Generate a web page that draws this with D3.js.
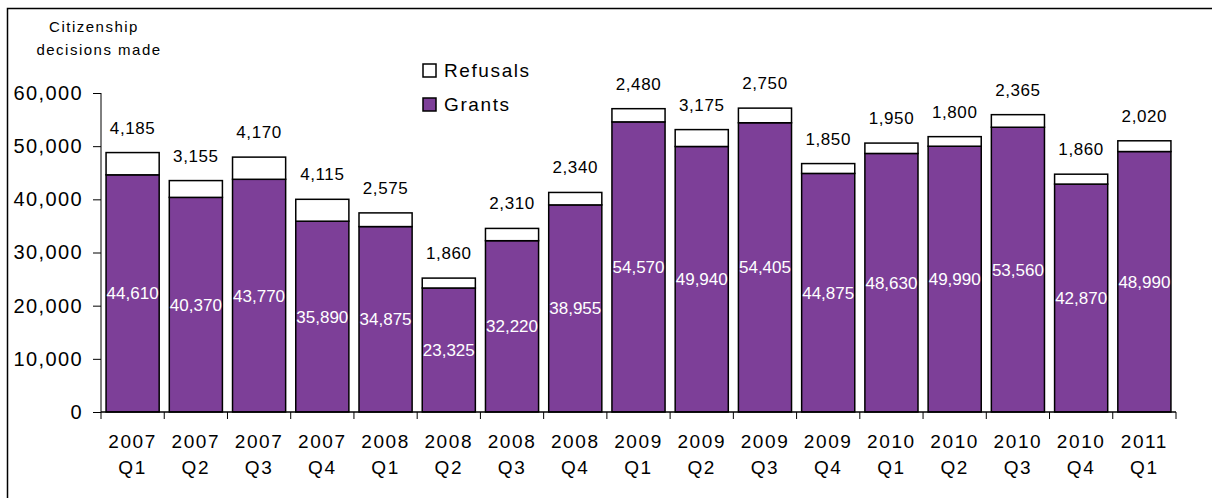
<!DOCTYPE html>
<html>
<head>
<meta charset="utf-8">
<script src="https://cdn.jsdelivr.net/npm/d3@7"></script>
<style>
  body { margin: 0; background: #fff; }
  text { font-family: "Liberation Sans", Arial, sans-serif; }
</style>
</head>
<body>
<svg id="chart" width="1212" height="498"></svg>
<script>
var years = ["2007","2007","2007","2007","2008","2008","2008","2008","2009","2009","2009","2009","2010","2010","2010","2010","2011"];
var quarters = ["Q1","Q2","Q3","Q4","Q1","Q2","Q3","Q4","Q1","Q2","Q3","Q4","Q1","Q2","Q3","Q4","Q1"];
var grants = [44610, 40370, 43770, 35890, 34875, 23325, 32220, 38955, 54570, 49940, 54405, 44875, 48630, 49990, 53560, 42870, 48990];
var refusals = [4185, 3155, 4170, 4115, 2575, 1860, 2310, 2340, 2480, 3175, 2750, 1850, 1950, 1800, 2365, 1860, 2020];
var yTicks = [0, 10000, 20000, 30000, 40000, 50000, 60000];

var purple = "#7d3f98";
var svg = d3.select("#chart");

// frame (only top and left show in the picture)
svg.append("path")
    .attr("d", "M7.5,498 V8.5 H1212")
    .attr("fill", "none")
    .attr("stroke", "#000")
    .attr("stroke-width", 1.5);

var x = d3.scaleBand()
    .domain(d3.range(grants.length))
    .range([101, 1176])
    .paddingInner(0.16)
    .paddingOuter(0.08);

var y = d3.scaleLinear()
    .domain([0, 60000])
    .range([412, 93]);

var fmt = d3.format(",");

// y axis
var yAxis = svg.append("g")
    .attr("transform", "translate(101,0)")
    .call(d3.axisLeft(y).tickValues(yTicks).tickFormat(fmt).tickSize(8).tickPadding(10));
yAxis.select(".domain").attr("stroke", "#000").attr("d", "M0," + y(60000) + "V" + y(0));
yAxis.selectAll("line").attr("stroke", "#000");
yAxis.selectAll("text")
    .attr("font-size", 20)
    .attr("letter-spacing", 1.4)
    .attr("fill", "#000")
    .attr("font-family", "Liberation Sans, Arial, sans-serif");

// bars
var step = x.step();
var groups = svg.append("g").selectAll(".bar")
    .data(grants.map((g, i) => ({i: i, g: g, r: refusals[i]})))
    .enter().append("g").classed("bar", true);

groups.append("rect")
    .attr("x", d => x(d.i))
    .attr("width", x.bandwidth())
    .attr("y", d => y(d.g))
    .attr("height", d => y(0) - y(d.g))
    .attr("fill", purple)
    .attr("stroke", "#000")
    .attr("stroke-width", 1.5);

groups.append("rect")
    .attr("x", d => x(d.i))
    .attr("width", x.bandwidth())
    .attr("y", d => y(d.g + d.r))
    .attr("height", d => y(d.g) - y(d.g + d.r))
    .attr("fill", "#fff")
    .attr("stroke", "#000")
    .attr("stroke-width", 1.5);

groups.append("text")
    .attr("x", d => x(d.i) + x.bandwidth() / 2)
    .attr("y", d => y(d.g / 2) + 6)
    .attr("text-anchor", "middle")
    .attr("font-size", 17)
    .attr("fill", "#fff")
    .text(d => fmt(d.g));

groups.append("text")
    .attr("x", d => x(d.i) + x.bandwidth() / 2)
    .attr("y", d => y(d.g + d.r) - 19)
    .attr("text-anchor", "middle")
    .attr("font-size", 17)
    .attr("letter-spacing", 0.6)
    .attr("fill", "#000")
    .text(d => fmt(d.r));

// x axis
var xa = svg.append("g");
xa.append("line")
    .attr("x1", 101).attr("x2", 1176)
    .attr("y1", y(0)).attr("y2", y(0))
    .attr("stroke", "#000").attr("stroke-width", 1.5);
xa.selectAll(".tick")
    .data(d3.range(grants.length + 1))
    .enter().append("line")
    .attr("x1", i => 101 + i * step).attr("x2", i => 101 + i * step)
    .attr("y1", y(0)).attr("y2", y(0) + 7)
    .attr("stroke", "#000");
var xl = xa.selectAll(".lab")
    .data(d3.range(grants.length))
    .enter().append("text")
    .attr("text-anchor", "middle")
    .attr("font-size", 19)
    .attr("letter-spacing", 1.6)
    .attr("fill", "#000");
xl.append("tspan")
    .attr("x", i => x(i) + x.bandwidth() / 2)
    .attr("y", 448)
    .text(i => years[i]);
xl.append("tspan")
    .attr("x", i => x(i) + x.bandwidth() / 2)
    .attr("y", 474)
    .text(i => quarters[i]);

// y title
svg.append("text")
    .attr("x", 94).attr("y", 32)
    .attr("text-anchor", "middle")
    .attr("font-size", 15)
    .attr("letter-spacing", 1.5)
    .text("Citizenship");
svg.append("text")
    .attr("x", 99).attr("y", 55)
    .attr("text-anchor", "middle")
    .attr("font-size", 15)
    .attr("letter-spacing", 1.5)
    .text("decisions made");

// legend
var legend = [["Refusals", "#fff"], ["Grants", purple]];
var lg = svg.append("g").selectAll("g")
    .data(legend)
    .enter().append("g")
    .attr("transform", (d, i) => "translate(423," + (64 + i * 34) + ")");
lg.append("rect")
    .attr("width", 13).attr("height", 13)
    .attr("fill", d => d[1])
    .attr("stroke", "#000")
    .attr("stroke-width", 1.5);
lg.append("text")
    .attr("x", 21).attr("y", 13)
    .attr("font-size", 19)
    .attr("letter-spacing", 1.6)
    .text(d => d[0]);
</script>
</body>
</html>
